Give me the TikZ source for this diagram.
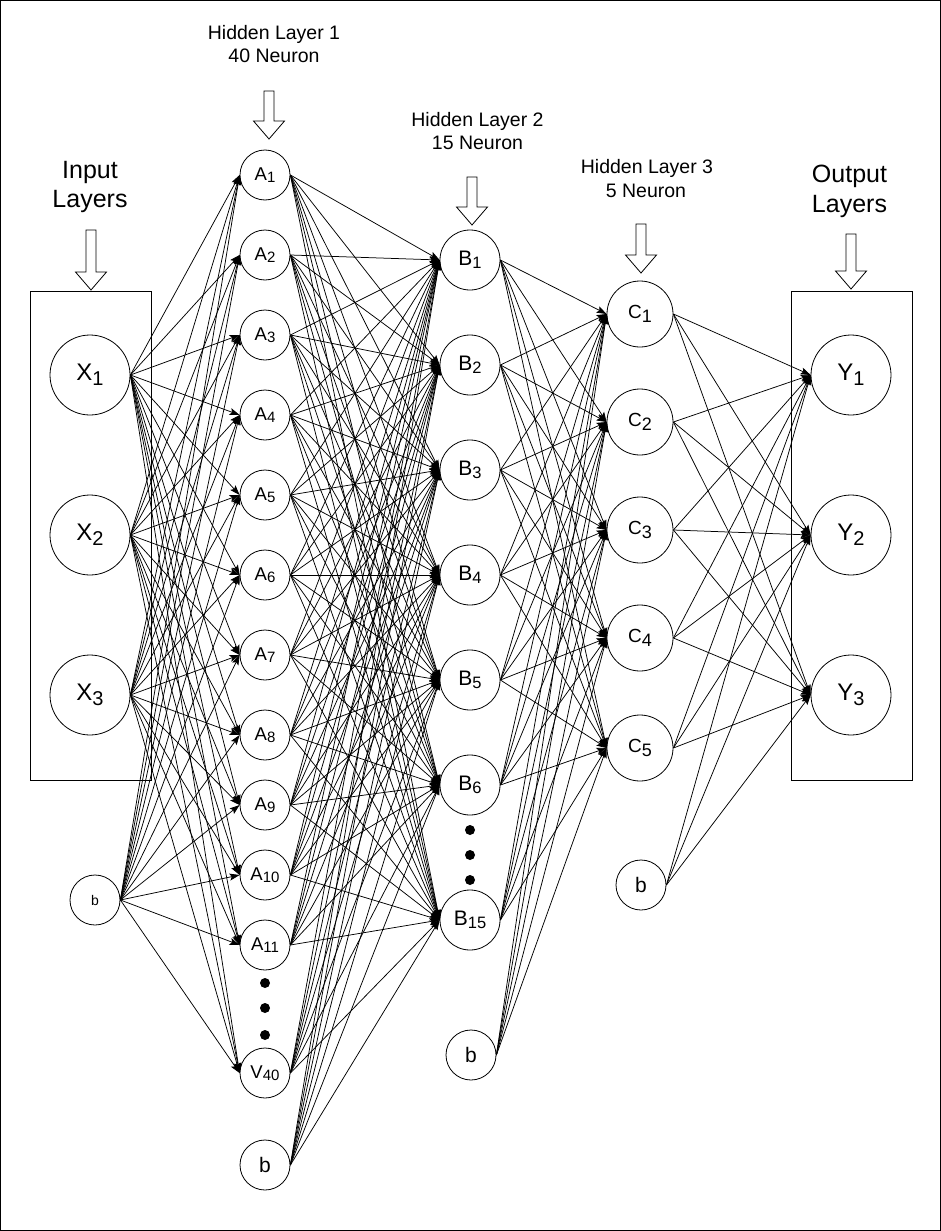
\documentclass[tikz,border=0pt]{standalone}
\usepackage{fontspec}
\setmainfont{Liberation Sans}
\usetikzlibrary{arrows.meta}

% letter with a lowered, smaller index: {letter}{index}{index size}{drop}
\newcommand\nlab[4]{#1\raisebox{-#4pt}{\fontsize{#3pt}{#3pt}\selectfont #2}}

\begin{document}
\begin{tikzpicture}[x=1pt,y=-1pt,
  neuron/.style={draw, circle, line width=0.8pt, inner sep=0pt},
  xnode/.style={neuron, minimum size=80pt, font=\fontsize{24}{24}\selectfont},
  anode/.style={neuron, minimum size=50pt, font=\fontsize{18.5}{18.5}\selectfont},
  bnode/.style={neuron, minimum size=60pt, font=\fontsize{21}{21}\selectfont},
  cnode/.style={neuron, minimum size=66pt, font=\fontsize{19}{19}\selectfont},
  bias/.style={neuron, minimum size=50pt, font=\fontsize{21}{21}\selectfont},
  smallbias/.style={neuron, minimum size=50pt, font=\fontsize{14}{14}\selectfont},
  layerbox/.style={draw, line width=0.8pt, minimum width=121pt, minimum height=489pt, inner sep=0pt},
  link/.style={line width=0.75pt, -{Stealth[length=10pt,width=7pt,inset=2pt]}},
  head/.style={font=\fontsize{19.5}{19.5}\selectfont, anchor=base, inner sep=0pt},
  bighead/.style={font=\fontsize{25}{25}\selectfont, anchor=base, inner sep=0pt},
  dot/.style={fill=black},
  pics/hollowarrow/.style={code={
    \draw[line width=0.8pt] (0,0) -- (-15.5,-18) -- (-5,-18) -- (-5,-#1)
      -- (5,-#1) -- (5,-18) -- (15.5,-18) -- cycle;}},
]
\useasboundingbox (0,0) rectangle (941,1231);
\draw[line width=1pt] (0.5,0.5) rectangle (940.5,1230.5);

% layer boxes
\node[layerbox] (inbox) at (90.5,535.5) {};
\node[layerbox] (outbox) at (851.5,535.5) {};

% headings
\node[bighead] (hin1) at (90,178) {Input};
\node[bighead] (hin2) at (90,207) {Layers};
\node[head] (h1a) at (274,40) {Hidden Layer 1};
\node[head] (h1b) at (274,63) {40 Neuron};
\node[head] (h2a) at (477.5,126) {Hidden Layer 2};
\node[head] (h2b) at (477.5,149) {15 Neuron};
\node[head] (h3a) at (647,173) {Hidden Layer 3};
\node[head] (h3b) at (646,197) {5 Neuron};
\node[bighead] (hout1) at (849.5,182) {Output};
\node[bighead] (hout2) at (849.5,212) {Layers};

% hollow arrows pointing at each layer
\pic at (91,290) {hollowarrow=60};
\pic at (269,139) {hollowarrow=48};
\pic at (472,225) {hollowarrow=48};
\pic at (641,273) {hollowarrow=49};
\pic at (851,289) {hollowarrow=55};

% input layer
\foreach \i/\y in {1/375,2/535,3/695}
  \node[xnode] (X\i) at (90,\y) {\nlab{X}{\i}{20}{5}};
\node[smallbias] (bX) at (95,900) {b};

% hidden layer 1
\foreach \i/\y in {1/175,2/255,3/335,4/415,5/495,6/575,7/655,8/735,9/805,10/875,11/945}
  \node[anode] (A\i) at (265,\y) {\nlab{A}{\i}{15}{2.5}};
\node[anode] (A40) at (265,1073) {\nlab{V}{40}{15}{2.5}};
\node[bias] (bA) at (265,1165) {b};
\foreach \y in {983,1008,1035} \fill[dot] (265,\y) circle (5);

% hidden layer 2
\foreach \i/\y in {1/260,2/365,3/470,4/575,5/680,6/785,15/920}
  \node[bnode] (B\i) at (470,\y) {\nlab{B}{\i}{16.5}{3.5}};
\node[bias] (bB) at (471,1055) {b};
\foreach \y in {830,855,880} \fill[dot] (470,\y) circle (5);

% hidden layer 3
\foreach \i/\y in {1/314,2/422,3/530,4/638,5/748}
  \node[cnode] (C\i) at (640,\y) {\nlab{C}{\i}{18}{4}};
\node[bias] (bC) at (641,885) {b};

% output layer
\foreach \i/\y in {1/375,2/535,3/695}
  \node[xnode] (Y\i) at (851,\y) {\nlab{Y}{\i}{20}{5}};

% connections
\foreach \s in {X1,X2,X3,bX}
  \foreach \t in {1,...,11,40}
    \draw[link] (\s.east) -- (A\t.west);
\foreach \s in {A1,A2,A3,A4,A5,A6,A7,A8,A9,A10,A11,A40,bA}
  \foreach \t in {1,2,3,4,5,6,15}
    \draw[link] (\s.east) -- (B\t.west);
\foreach \s in {B1,B2,B3,B4,B5,B6,B15,bB}
  \foreach \t in {1,...,5}
    \draw[link] (\s.east) -- (C\t.west);
\foreach \s in {C1,C2,C3,C4,C5,bC}
  \foreach \t in {1,2,3}
    \draw[link] (\s.east) -- (Y\t.west);
\end{tikzpicture}
\end{document}
